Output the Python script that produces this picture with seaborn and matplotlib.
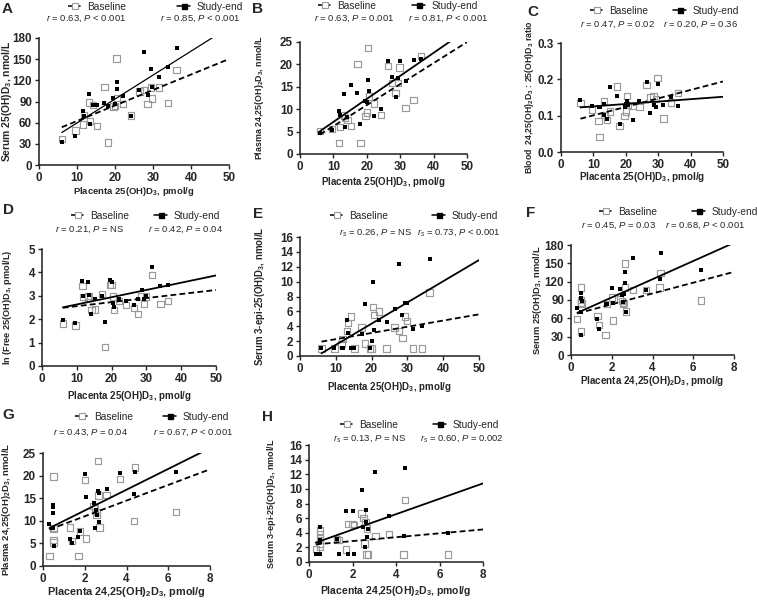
import numpy as np
import pandas as pd
import seaborn as sns
import matplotlib.pyplot as plt
from matplotlib.lines import Line2D

# placenta 25(OH)D3, pmol/g (x for panels A-E)
placenta_25 = [6.0, 9.6, 11.6, 11.9, 13.2, 13.4, 14.2, 15.2, 17.2, 18.1, 19.6, 20.0,
               20.4, 20.6, 22.1, 24.2, 26.4, 27.6, 28.6, 29.4, 29.8, 31.6, 34.0, 36.2]
# placenta 24,25(OH)2D3, pmol/g (x for panels F-H)
placenta_2425 = [0.31, 0.50, 0.50, 0.50, 0.50, 0.52, 1.30, 1.38, 1.70, 1.78, 2.00, 2.07,
                 2.42, 2.50, 2.56, 2.60, 2.64, 2.66, 2.70, 3.05, 3.68, 4.35, 4.40, 6.38]

# A: serum 25(OH)D3
a_base = [37.3, 48.7, 57.6, 70.9, 88.8, 62.4, 85.0, 55.3, 111.0, 31.7, 82.7, 84.0,
          150.7, 95.4, 86.5, 69.9, 104.0, 106.3, 86.5, 110.1, 94.5, 110.1, 88.3, 134.6]
a_end = [32.1, 41.1, 76.5, 69.4, 101.1, 57.6, 85.5, 85.5, 88.3, 84.1, 94.5, 86.5,
         117.2, 107.7, 98.3, 69.9, 106.3, 159.7, 99.2, 136.1, 110.1, 124.3, 139.4, 166.3]
# B: plasma 24,25(OH)2D3
b_base = [5.15, 5.6, 2.4, 6.0, 8.6, 8.0, 7.6, 6.3, 20.1, 2.4, 8.5, 9.3,
          23.7, 12.8, 11.3, 8.7, 19.6, 15.8, 13.6, 15.8, 19.3, 10.2, 12.1, 21.9]
b_end = [4.78, 5.37, 9.63, 8.73, 13.4, 6.1, 8.2, 15.4, 13.7, 6.7, 11.9, 11.5,
         16.6, 14.0, 8.5, 10.1, 20.8, 17.2, 12.8, 16.9, 20.7, 16.3, 21.0, 21.3]
# C: 24,25(OH)2D3 : 25(OH)D3 ratio
c_base = [0.134, 0.117, 0.085, 0.042, 0.140, 0.102, 0.088, 0.111, 0.180, 0.071, 0.099, 0.111,
          0.155, 0.130, 0.128, 0.123, 0.185, 0.150, 0.154, 0.145, 0.203, 0.092, 0.136, 0.163]
c_end = [0.143, 0.126, 0.123, 0.123, 0.132, 0.103, 0.092, 0.180, 0.154, 0.078, 0.125, 0.132,
         0.141, 0.132, 0.088, 0.141, 0.194, 0.108, 0.129, 0.125, 0.187, 0.129, 0.152, 0.126]
# D: ln(free 25(OH)D3)
d_base = [1.82, 1.73, 3.42, 2.94, 2.92, 3.00, 2.39, 2.42, 3.08, 0.82, 3.47, 3.47,
          2.97, 2.39, 2.78, 2.61, 2.49, 2.22, 2.97, 2.65, 2.97, 3.90, 2.65, 2.79]
d_end = [1.96, 1.82, 3.64, 2.99, 3.61, 3.04, 2.21, 2.85, 2.99, 1.89, 3.68, 3.58,
         2.71, 2.51, 2.85, 2.79, 2.61, 2.85, 3.25, 2.85, 2.99, 4.21, 3.40, 3.47]
# E: serum 3-epi-25(OH)D3
e_base = [1.03, 1.03, 1.6, 2.3, 3.4, 4.4, 5.3, 1.03, 3.85, 1.7, 1.03, 1.03,
          6.63, 5.5, 5.96, 1.03, 3.85, 3.4, 2.46, 5.29, 4.7, 1.03, 1.03, 8.56]
e_end = [1.03, 1.03, 1.03, 1.03, 4.84, 3.14, 1.03, 1.03, 2.96, 6.99, 1.03, 2.06,
         9.95, 3.5, 4.84, 4.53, 6.32, 12.4, 5.5, 7.08, 7.08, 3.63, 4.08, 13.04]
# F: serum 25(OH)D3
f_base = [58.4, 110.7, 85.6, 38.2, 90.0, 84.0, 63.8, 49.1, 32.7, 83.0, 93.8, 56.2,
          92.0, 88.4, 83.5, 85.0, 150.0, 110.2, 70.9, 106.4, 106.4, 110.2, 134.7, 88.9]
f_end = [77.5, 69.8, 32.7, 100.9, 93.8, 88.4, 58.4, 42.0, 83.5, 84.0, 110.2, 85.6,
         107.5, 98.2, 87.3, 99.3, 117.3, 135.3, 70.9, 159.3, 106.4, 123.8, 166.4, 139.1]
# G: plasma 24,25(OH)2D3
g_base = [2.2, 19.8, 5.75, 5.2, 8.3, 8.4, 8.5, 5.6, 2.2, 7.6, 19.0, 6.1,
          13.3, 12.8, 11.3, 12.0, 23.3, 15.6, 8.5, 15.7, 19.2, 10.0, 21.8, 11.9]
g_end = [9.3, 8.5, 13.5, 13.0, 11.65, 4.4, 5.9, 5.0, 6.5, 7.7, 20.35, 15.2,
         13.9, 8.5, 12.5, 11.3, 16.7, 16.1, 9.8, 17.0, 20.5, 15.9, 20.9, 20.9]
# H: serum 3-epi-25(OH)D3
h_base = [1.78, 2.1, 3.8, 4.3, 3.3, 2.5, 3.1, 3.0, 1.73, 5.2, 5.2, 5.1,
          6.65, 6.0, 2.55, 5.5, 1.05, 4.6, 1.05, 3.56, 3.83, 1.05, 8.48, 1.05]
h_end = [1.05, 1.05, 3.0, 4.83, 1.05, 2.8, 3.1, 1.05, 7.0, 1.05, 7.0, 1.05,
         9.85, 4.83, 2.1, 5.5, 7.1, 3.37, 4.5, 12.35, 6.3, 3.56, 12.9, 4.0]

# regression lines as printed in the figure (slope, intercept), panels A-H
base_slope = [2.196, 0.469, 0.00233, 0.0173, 0.0834, 8.84, 1.732, 0.265]
base_icpt = [40.4, 1.53, 0.0776, 2.384, 1.43, 65.3, 7.54, 2.33]
end_slope = [3.39, 0.514, 0.000662, 0.031, 0.285, 14.9, 2.30, 1.054]
end_icpt = [25.7, 2.02, 0.1189, 2.32, -1.35, 64.4, 7.68, 2.32]

r_base = [r'$r$ = 0.63, $P$ < 0.001', r'$r$ = 0.63, $P$ = 0.001', r'$r$ = 0.47, $P$ = 0.02',
          r'$r$ = 0.21, $P$ = NS', r'$r_s$ = 0.26, $P$ = NS', r'$r$ = 0.45, $P$ = 0.03',
          r'$r$ = 0.43, $P$ = 0.04', r'$r_s$ = 0.13, $P$ = NS']
r_end = [r'$r$ = 0.85, $P$ < 0.001', r'$r$ = 0.81, $P$ < 0.001', r'$r$ = 0.20, $P$ = 0.36',
         r'$r$ = 0.42, $P$ = 0.04', r'$r_s$ = 0.73, $P$ < 0.001', r'$r$ = 0.68, $P$ < 0.001',
         r'$r$ = 0.67, $P$ < 0.001', r'$r_s$ = 0.60, $P$ = 0.002']

xlab_25 = r'Placenta 25(OH)D$_\mathbf{3}$, pmol/g'
xlab_2425 = r'Placenta 24,25(OH)$_\mathbf{2}$D$_\mathbf{3}$, pmol/g'
ylabels = [
    r'Serum 25(OH)D$_\mathbf{3}$, nmol/L',
    r'Plasma 24,25(OH)$_\mathbf{2}$D$_\mathbf{3}$, nmol/L',
    r'Blood  24,25(OH)$_\mathbf{2}$D$_\mathbf{3}$ : 25(OH)D$_\mathbf{3}$ ratio',
    r'ln (Free 25(OH)D$_\mathbf{3}$, pmol/L)',
    r'Serum 3-epi-25(OH)D$_\mathbf{3}$, nmol/L',
    r'Serum 25(OH)D$_\mathbf{3}$, nmol/L',
    r'Plasma 24,25(OH)$_\mathbf{2}$D$_\mathbf{3}$, nmol/L',
    r'Serum 3-epi-25(OH)D$_\mathbf{3}$, nmol/L',
]

sns.set_style('ticks')
plt.rcParams['font.family'] = ['Liberation Sans', 'DejaVu Sans']
plt.rcParams['mathtext.fontset'] = 'custom'
plt.rcParams['mathtext.rm'] = 'Liberation Sans'
plt.rcParams['mathtext.it'] = 'Liberation Sans:italic'
plt.rcParams['mathtext.bf'] = 'Liberation Sans:bold'

W, H = 757, 600
fig = plt.figure(figsize=(W / 100, H / 100), dpi=100)

# pixel layout: axes box (left, top, right, bottom), letter xy, key row y,
# key x for baseline / study-end, r row y, r text centres, label positions and sizes
layout = [
    dict(box=(39, 38, 229, 165), letter=(2, 9), key_y=6.5, keys=(68, 177), r_y=19, r_x=(86, 200),
         xl=192, yl=7, xs=6.8, ys=7.4),
    dict(box=(300, 42, 467, 154), letter=(252, 9), key_y=6, keys=(318, 412), r_y=19, r_x=(354, 448),
         xl=182, yl=259, xs=7.0, ys=6.4),
    dict(box=(561, 43, 723, 152), letter=(527, 12), key_y=11, keys=(590, 673), r_y=25, r_x=(617, 701),
         xl=177, yl=530, xs=7.1, ys=6.3),
    dict(box=(42, 249, 216, 366), letter=(3, 210), key_y=216, keys=(71, 154), r_y=230, r_x=(90, 186),
         xl=396, yl=8, xs=7.0, ys=6.6),
    dict(box=(300, 237, 479, 356), letter=(253, 214), key_y=216, keys=(330, 432), r_y=232, r_x=(376, 459),
         xl=387, yl=260, xs=7.0, ys=6.9),
    dict(box=(571, 245, 734, 355), letter=(526, 213), key_y=212, keys=(599, 692), r_y=226, r_x=(619, 705),
         xl=381, yl=537, xs=7.1, ys=6.7),
    dict(box=(43, 453, 210, 566), letter=(2, 415), key_y=417, keys=(75, 163), r_y=433, r_x=(91, 193),
         xl=592, yl=7, xs=7.8, ys=6.8),
    dict(box=(309, 445, 483, 562), letter=(262, 417), key_y=425, keys=(340, 433), r_y=439, r_x=(370, 462),
         xl=591, yl=272, xs=7.5, ys=6.5),
]

panels = [
    ('A', placenta_25, a_base, a_end, (0, 50), (0, 180), np.arange(0, 51, 10), np.arange(0, 181, 30)),
    ('B', placenta_25, b_base, b_end, (0, 50), (0, 25), np.arange(0, 51, 10), np.arange(0, 26, 5)),
    ('C', placenta_25, c_base, c_end, (0, 50), (0, 0.3), np.arange(0, 51, 10), [0, 0.1, 0.2, 0.3]),
    ('D', placenta_25, d_base, d_end, (0, 50), (0, 5), np.arange(0, 51, 10), np.arange(0, 6, 1)),
    ('E', placenta_25, e_base, e_end, (0, 50), (0, 16), np.arange(0, 51, 10), np.arange(0, 17, 2)),
    ('F', placenta_2425, f_base, f_end, (0, 8), (0, 180), np.arange(0, 9, 2), np.arange(0, 181, 30)),
    ('G', placenta_2425, g_base, g_end, (0, 8), (0, 25), np.arange(0, 9, 2), np.arange(0, 26, 5)),
    ('H', placenta_2425, h_base, h_end, (0, 8), (0, 16), np.arange(0, 9, 2), np.arange(0, 17, 2)),
]

gray = '#9a9a9a'
dash = (0, (3.2, 1.8))
base_key = Line2D([], [], color='black', ls=dash, lw=1.1, marker='s', markersize=4.5,
                  markerfacecolor='white', markeredgecolor=gray, markeredgewidth=0.8)
end_key = Line2D([], [], color='black', ls='-', lw=1.1, marker='s', markersize=3.6,
                 markerfacecolor='black', markeredgecolor='black')


def px(x, y):
    return x / W, 1 - y / H


for i, (name, x, base, end, xlim, ylim, xticks, yticks) in enumerate(panels):
    lay = layout[i]
    l, t, r, b = lay['box']
    ax = fig.add_axes([l / W, 1 - b / H, (r - l) / W, (b - t) / H])
    df = pd.DataFrame({'x': x, 'base': base, 'end': end})

    sns.scatterplot(data=df, x='x', y='base', ax=ax, marker='s', s=21, facecolor='none',
                    edgecolor=gray, linewidth=0.85, zorder=3, clip_on=False)
    sns.scatterplot(data=df, x='x', y='end', ax=ax, marker='s', s=12, color='black',
                    linewidth=0, zorder=4, clip_on=False)

    # fitted lines run from the smallest x to the right end of the axis
    xs = np.array([min(x), xlim[1]])
    ax.plot(xs, base_slope[i] * xs + base_icpt[i], color='black', ls=dash, lw=1.3, zorder=5)
    ax.plot(xs, end_slope[i] * xs + end_icpt[i], color='black', ls='-',
            lw=0.9 if name == 'A' else 1.3, zorder=5)

    ax.set_xlim(*xlim)
    ax.set_ylim(*ylim)
    ax.set_xticks(xticks)
    ax.set_yticks(yticks)
    if name == 'C':
        ax.set_yticklabels(['0.0', '0.1', '0.2', '0.3'])
    sns.despine(ax=ax)
    for sp in ('left', 'bottom'):
        ax.spines[sp].set_linewidth(1.15)
    ax.tick_params(direction='out', length=3, width=1.0, pad=2, labelsize=8.4)
    for lab in ax.get_xticklabels() + ax.get_yticklabels():
        lab.set_fontweight('bold')

    ax.set_xlabel(xlab_25 if name in 'ABCDE' else xlab_2425, fontsize=lay['xs'], fontweight='bold')
    ax.set_ylabel(ylabels[i], fontsize=lay['ys'], fontweight='bold')
    ax.xaxis.set_label_coords(0.5, 1 - (lay['xl'] - t) / (b - t))
    ax.xaxis.label.set_va('center')
    ax.yaxis.set_label_coords((lay['yl'] - l) / (r - l), 0.5)
    ax.yaxis.label.set_va('center')

    fig.text(*px(*lay['letter']), name, fontsize=11, fontweight='bold', ha='left', va='center')
    for kx, handle, label in ((lay['keys'][0], base_key, 'Baseline'),
                              (lay['keys'][1], end_key, 'Study-end')):
        fig.legend([handle], [label], loc='center left', bbox_to_anchor=px(kx, lay['key_y']),
                   frameon=False, borderpad=0, borderaxespad=0, handlelength=1.3,
                   handletextpad=0.6, fontsize=7.3)
    fig.text(*px(lay['r_x'][0], lay['r_y']), r_base[i], fontsize=6.8, ha='center', va='center')
    fig.text(*px(lay['r_x'][1], lay['r_y']), r_end[i], fontsize=6.8, ha='center', va='center')

fig.savefig('out.png', dpi=100)
